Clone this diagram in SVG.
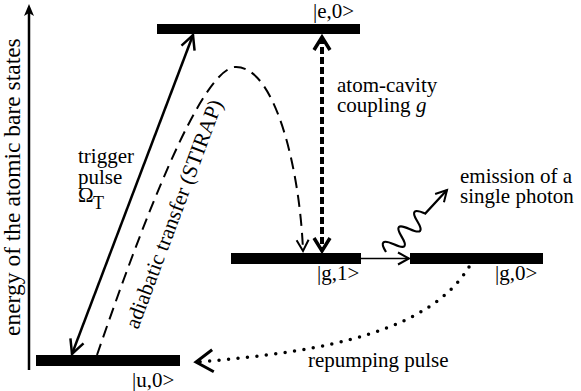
<svg xmlns="http://www.w3.org/2000/svg" xmlns:xlink="http://www.w3.org/1999/xlink" width="581" height="391" viewBox="0 0 581 391">
<defs>
<path id="ahS" d="M-14,-7 L0,0 L-14,7" fill="none" stroke="#000" stroke-width="2.5"/>
<path id="ahD" d="M-13,-8 L0,0 L-13,8" fill="none" stroke="#000" stroke-width="3.5"/>
<path id="ahT" d="M-11,-6 L0,0 L-11,6" fill="none" stroke="#000" stroke-width="2"/>
<path id="ahR" d="M-17,-11 L0,0 L-17,11" fill="none" stroke="#000" stroke-width="3"/>
</defs>

<g id="level-e0">
<rect x="157" y="24" width="203" height="10" fill="#000"/>
<text x="313" y="18" font-family="Liberation Serif, serif" font-size="21">|e,0&gt;</text>
</g>
<g id="level-g1">
<rect x="231" y="253" width="130" height="11" fill="#000"/>
<text x="317" y="280" font-family="Liberation Serif, serif" font-size="21">|g,1&gt;</text>
</g>
<g id="level-g0">
<rect x="410" y="253" width="133" height="11" fill="#000"/>
<text x="495" y="280" font-family="Liberation Serif, serif" font-size="21">|g,0&gt;</text>
</g>
<g id="level-u0">
<rect x="36" y="355" width="144" height="11" fill="#000"/>
<text x="132" y="387" font-family="Liberation Serif, serif" font-size="21">|u,0&gt;</text>
</g>

<g id="labels">
<text x="78" y="163" font-family="Liberation Serif, serif" font-size="21">trigger</text>
<text x="78" y="184" font-family="Liberation Serif, serif" font-size="21">pulse</text>
<text x="78" y="202" font-family="Liberation Serif, serif" font-size="21">&#937;</text>
<text x="93" y="209" font-family="Liberation Serif, serif" font-size="18">T</text>
<text x="337" y="92" font-family="Liberation Serif, serif" font-size="21">atom-cavity</text>
<text x="337" y="112" font-family="Liberation Serif, serif" font-size="21">coupling</text>
<text x="416" y="112" font-family="Liberation Serif, serif" font-size="21" font-style="italic">g</text>
<text x="460" y="183" font-family="Liberation Serif, serif" font-size="21">emission of a</text>
<text x="460" y="203" font-family="Liberation Serif, serif" font-size="21">single photon</text>
<text x="308" y="367" font-family="Liberation Serif, serif" font-size="21">repumping pulse</text>
<text transform="translate(138,330) rotate(-69.5)" font-family="Liberation Serif, serif" font-size="21.5">adiabatic transfer (STIRAP)</text>
</g>

<g id="connectors" fill="none" stroke="#000">
<line id="trigger" x1="193" y1="35" x2="72" y2="354" stroke-width="2.5"/>
<use xlink:href="#ahS" transform="translate(193,35) rotate(-69.2)"/>
<use xlink:href="#ahS" transform="translate(72,354) rotate(110.8)"/>
<path id="stirap" d="M97,355 C140,230 200,70 235,67 C275,65 300,170 303,251" stroke-width="2" stroke-dasharray="12 7"/>
<use xlink:href="#ahT" transform="translate(303,251) rotate(87.9)"/>
<line id="coupling" x1="322" y1="37" x2="322" y2="251" stroke-width="4" stroke-dasharray="7 3"/>
<use xlink:href="#ahD" transform="translate(322,37) rotate(-90)"/>
<use xlink:href="#ahD" transform="translate(322,251) rotate(90)"/>
<line id="decay" x1="361" y1="258.5" x2="409" y2="258.5" stroke-width="1.6"/>
<use xlink:href="#ahT" transform="translate(409,258.5)"/>
<path id="photon" d="M386,252 Q376.7,236.8 393.9,244.3 Q411,252 401.6,236.6 Q392.3,221.2 409.5,229 Q426.7,236.7 417.3,221.3 Q408,206 425.2,213.6 L447,190" stroke-width="2.2"/>
<use xlink:href="#ahT" transform="translate(447,190) rotate(-47.3)"/>
<path id="repump" d="M469,267 C430,330 330,352 196,362" stroke-width="3.5" stroke-linecap="round" stroke-dasharray="0 9.5"/>
<use xlink:href="#ahR" transform="translate(196,362) rotate(175.7)"/>
</g>

<g id="axis">
<line x1="29" y1="370" x2="29" y2="12" stroke="#000" stroke-width="2.5"/>
<path d="M29,4 L24,16 L29,13 L34,16 Z" fill="#000"/>
<text transform="translate(20,336) rotate(-90)" font-family="Liberation Serif, serif" font-size="23.5">energy of the atomic bare states</text>
</g>
</svg>
